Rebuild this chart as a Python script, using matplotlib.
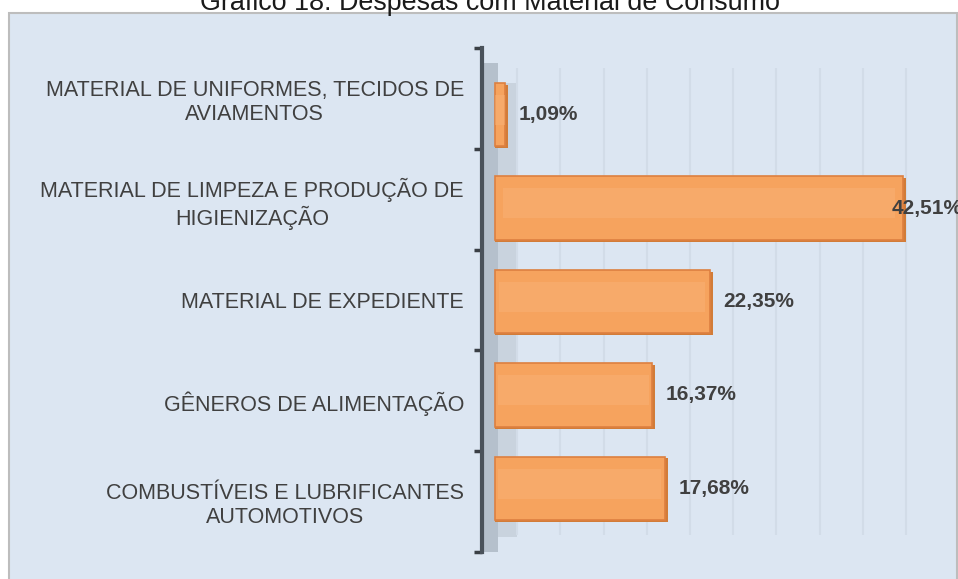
import numpy as np
import matplotlib.pyplot as plt
from matplotlib.patches import Rectangle

plt.rcParams['font.family'] = ['Liberation Sans', 'DejaVu Sans']

# Data (top to bottom)
categories = [
    "MATERIAL DE UNIFORMES, TECIDOS DE\nAVIAMENTOS",
    "MATERIAL DE LIMPEZA E PRODUÇÃO DE\nHIGIENIZAÇÃO",
    "MATERIAL DE EXPEDIENTE",
    "GÊNEROS DE ALIMENTAÇÃO",
    "COMBUSTÍVEIS E LUBRIFICANTES\nAUTOMOTIVOS",
]
values = [1.09, 42.51, 22.35, 16.37, 17.68]
value_labels = ["1,09%", "42,51%", "22,35%", "16,37%", "17,68%"]
title = "Gráfico 18: Despesas com Material de Consumo"

W, H = 958, 579
fig = plt.figure(figsize=(W / 100, H / 100), dpi=100)
fig.patch.set_facecolor('white')

# chart area background box
bg = Rectangle((9 / W, -0.01), 1 - 9 / W - 1 / W, 1.01 - 12.5 / H, transform=fig.transFigure,
               facecolor='#dce6f2', edgecolor='#bdbdbd', linewidth=1.5, zorder=-5)
fig.patches.append(bg)

fig.text(490 / W, 1 - 10 / H, title, ha='center', va='baseline', fontsize=19.4, color='#1a1a1a')

y = np.arange(len(values))
xlim = (-1.35, 48.2)

# front axis: category labels, ticks, side wall
ax = fig.add_axes([482 / W, 1 - 552 / H, 476 / W, 504 / H])
ax.set_facecolor('none')
ax.set_zorder(2)
ax.set_xlim(*xlim)
ax.set_ylim(len(values) - 0.5, -0.5)
ax.axvspan(xlim[0], 2.3, ymin=0.03, ymax=0.93, color='#c9d3de', zorder=0, lw=0)
ax.axvspan(xlim[0], 0.3, ymin=0.0, ymax=0.97, color='#b5c0cc', zorder=0, lw=0)
ax.set_xticks([])

ax.set_yticks(y)
ax.set_yticklabels(categories, fontsize=15.5, color='#404040',
                   multialignment='center')
ax.tick_params(axis='y', which='major', length=0, pad=13)
ax.set_yticks(np.arange(-0.5, len(values)), minor=True)
ax.tick_params(axis='y', which='minor', length=6, width=2.5, color='#3a3f45',
               direction='out')
for s in ['top', 'right', 'bottom']:
    ax.spines[s].set_visible(False)
ax.spines['left'].set_color('#4a525b')
ax.spines['left'].set_linewidth(3)

# back plane (3D perspective): bars and gridlines
bx = fig.add_axes([482 / W, 1 - 535 / H, 476 / W, 467 / H])
bx.set_facecolor('none')
bx.set_zorder(3)
bx.set_xlim(*xlim)
bx.set_ylim(len(values) - 0.5, -0.5)
bx.set_xticks(np.arange(2.3, 46, 4.5))
bx.set_yticks([])
bx.xaxis.grid(True, color='#d2dce8', linewidth=1.5, zorder=0)
bx.tick_params(axis='x', length=0, labelbottom=False)
for s in bx.spines.values():
    s.set_visible(False)

bx.barh(y + 0.02, [v + 0.3 for v in values], height=0.68, left=0.0,
        color='#d27c38', zorder=2, linewidth=0)
bx.barh(y, values, height=0.68, color='#f6a35e', edgecolor='#dd8040',
        linewidth=1.2, zorder=3)
bx.barh(y - 0.05, [v * 0.96 for v in values], height=0.32, left=[v * 0.02 for v in values],
        color='#f9b47a', linewidth=0, alpha=0.45, zorder=4)

for yi, v, lab in zip(y, values, value_labels):
    xpos = v + 1.4 if v < 40 else v - 1.2
    bx.text(xpos, yi, lab, ha='left', va='center', fontsize=15,
            fontweight='bold', color='#404040', zorder=5)

fig.savefig('out.png', dpi=100)
